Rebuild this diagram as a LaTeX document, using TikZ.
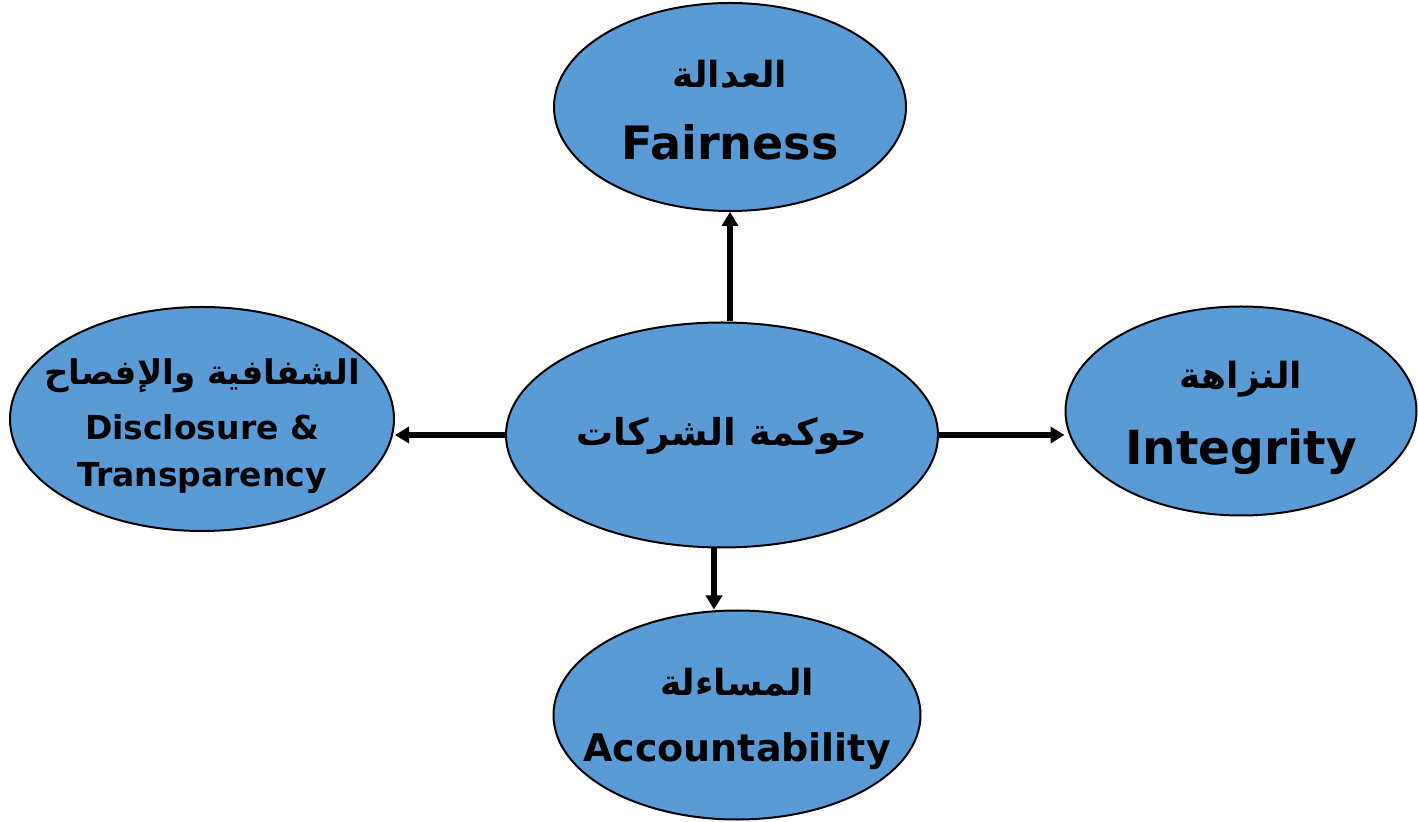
\documentclass[tikz,border=0pt]{standalone}
\usepackage{fontspec}
\setmainfont{DejaVu Sans}
\newfontfamily\arabicfont[Script=Arabic]{DejaVu Sans}
\TeXXeTstate=1
\usetikzlibrary{shapes.geometric}
\usetikzlibrary{arrows.meta}
\definecolor{mblue}{RGB}{91, 155, 213}
\tikzset{blob/.style = {draw, ellipse, fill = mblue, line width = 1pt, inner sep = 0}}
\tikzset{link/.style = {line width = 3pt, -{Triangle[width = 8pt, length = 7pt]}}}
\tikzset{label/.style = {align = center, inner sep = 0}}
\newcommand{\arabsize}[1]{\fontsize{#1}{#1}\selectfont\arabicfont\bfseries}
\newcommand{\engtxt}[2]{{\fontsize{#1}{#1}\selectfont\bfseries #2}}

\begin{document}
\begin{tikzpicture}[x = 0.5pt, y = -0.5pt]
    \useasboundingbox (0, 0) rectangle (1418, 822);

    \node [blob, minimum width = 352pt / 2, minimum height = 208pt / 2] (fair) at (730, 107) {};
    \node [blob, minimum width = 432pt / 2, minimum height = 225pt / 2] (gov) at (722, 435) {};
    \node [blob, minimum width = 384pt / 2, minimum height = 224pt / 2] (disc) at (202, 419) {};
    \node [blob, minimum width = 351pt / 2, minimum height = 209pt / 2] (integ) at (1241, 411) {};
    \node [blob, minimum width = 367pt / 2, minimum height = 209pt / 2] (acc) at (737, 715) {};

    \node [label] (fair-t) at (730, 110) {{\arabsize{18pt}\beginR العدالة\endR}\\[17pt] \engtxt{23pt}{Fairness}};
    \node [label] (gov-t) at (722, 436) {\arabsize{18.5pt}\beginR حوكمة الشركات\endR};
    \node [label] (disc-t) at (202, 426) {{\arabsize{17pt}\beginR الشفافية والإفصاح\endR}\\[10pt] \engtxt{16.5pt}{Disclosure \&}\\[10pt] \engtxt{16.5pt}{Transparency}};
    \node [label] (integ-t) at (1241, 418) {{\arabsize{18pt}\beginR النزاهة\endR}\\[15pt] \engtxt{23.5pt}{Integrity}};
    \node [label] (acc-t) at (737, 719) {{\arabsize{18pt}\beginR المساءلة\endR}\\[17pt] \engtxt{19pt}{Accountability}};

    \draw [link] (gov.north -| fair.south) -- (fair.south);
    \draw [link] ([xshift = -4pt] gov.south) -- ([xshift = -4pt] gov.south |- acc.north);
    \draw [link] (gov.west) -- (gov.west -| disc.east);
    \draw [link] (gov.east) -- (gov.east -| integ.west);
  \end{tikzpicture}
\end{document}
